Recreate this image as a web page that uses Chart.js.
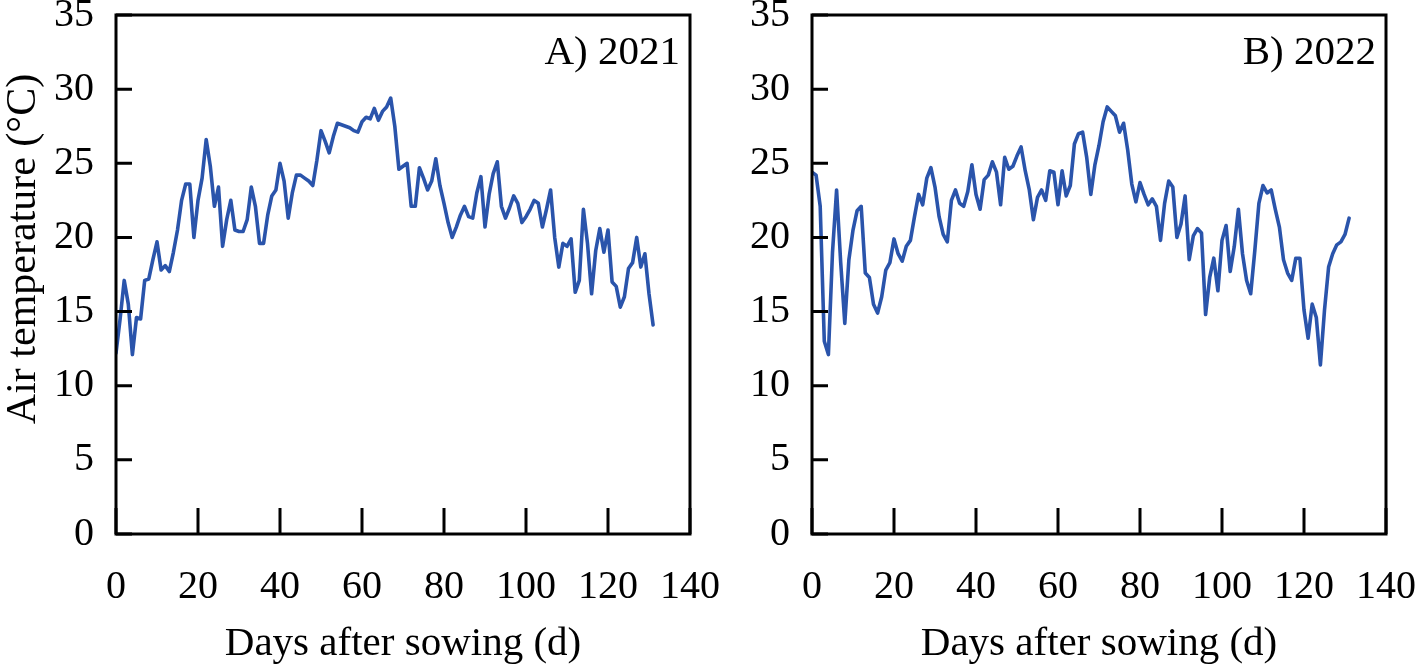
<!DOCTYPE html>
<html lang="en">
<head>
  <meta charset="UTF-8">
  <title>Air temperature</title>
  <script src="https://cdn.jsdelivr.net/npm/chart.js"></script>
  <style>
    body { margin: 0; background: #fff; }
    #wrap { position: relative; width: 1417px; height: 669px; background: #fff; }
    canvas { position: absolute; top: 0; left: 0; }
  </style>
</head>
<body>
  <div id="wrap">
    <canvas id="c1" width="1417" height="669"></canvas>
    <canvas id="c2" width="1417" height="669"></canvas>
  </div>

  <script>
    // daily mean air temperature (days 0..131)
    const temp2021 = [
      12.2, 14.5, 17.1, 15.5, 12.1, 14.6, 14.5, 17.1, 17.2, 18.5,
      19.7, 17.8, 18.1, 17.7, 19.0, 20.5, 22.5, 23.6, 23.6, 20.0,
      22.5, 24.0, 26.6, 24.8, 22.1, 23.4, 19.4, 21.2, 22.5, 20.5,
      20.4, 20.4, 21.2, 23.4, 22.1, 19.6, 19.6, 21.5, 22.8, 23.2,
      25.0, 23.8, 21.3, 23.0, 24.2, 24.2, 24.0, 23.8, 23.5, 25.2,
      27.2, 26.5, 25.7, 26.8, 27.7, 27.6, 27.5, 27.4, 27.2, 27.1,
      27.8, 28.1, 28.0, 28.7, 27.9, 28.5, 28.8, 29.4, 27.5, 24.6,
      24.8, 25.0, 22.1, 22.1, 24.7, 24.0, 23.2, 23.8, 25.3, 23.5,
      22.3, 21.0, 20.0, 20.7, 21.5, 22.1, 21.4, 21.3, 23.0, 24.1,
      20.7, 22.9, 24.3, 25.1, 22.1, 21.3, 22.0, 22.8, 22.3, 21.0,
      21.4, 21.9, 22.5, 22.3, 20.7, 21.9, 23.2, 20.0, 18.0, 19.6,
      19.4, 19.9, 16.3, 17.1, 21.9, 19.6, 16.2, 19.1, 20.6, 19.0,
      20.5, 17.0, 16.7, 15.3, 16.0, 17.9, 18.3, 20.0, 18.0, 18.9,
      16.2, 14.1
    ];
    const temp2022 = [
      24.4, 24.2, 22.1, 13.0, 12.1, 19.0, 23.2, 18.3, 14.2, 18.5,
      20.5, 21.8, 22.1, 17.6, 17.3, 15.5, 14.9, 16.0, 17.8, 18.3,
      19.9, 18.9, 18.4, 19.4, 19.8, 21.4, 22.9, 22.2, 24.0, 24.7,
      23.4, 21.4, 20.2, 19.7, 22.5, 23.2, 22.3, 22.1, 23.1, 24.9,
      22.9, 21.9, 23.9, 24.2, 25.1, 24.4, 22.2, 25.4, 24.6, 24.8,
      25.5, 26.1, 24.5, 23.2, 21.2, 22.7, 23.2, 22.5, 24.5, 24.4,
      22.2, 24.5, 22.8, 23.5, 26.3, 27.0, 27.1, 25.4, 22.9, 24.9,
      26.2, 27.8, 28.8, 28.5, 28.2, 27.1, 27.7, 25.9, 23.6, 22.4,
      23.7, 22.9, 22.2, 22.6, 22.1, 19.8, 22.3, 23.8, 23.4, 20.0,
      20.9, 22.8, 18.5, 20.1, 20.6, 20.3, 14.8, 17.3, 18.6, 16.4,
      19.8, 20.8, 17.7, 19.4, 21.9, 18.9, 17.1, 16.2, 19.1, 22.3,
      23.5, 23.0, 23.2, 21.9, 20.7, 18.5, 17.6, 17.1, 18.6, 18.6,
      15.1, 13.2, 15.5, 14.6, 11.4, 15.1, 18.0, 18.9, 19.5, 19.7,
      20.2, 21.3
    ];
    const days = temp2021.map((_, i) => i);
    const xTicks = [0, 20, 40, 60, 80, 100, 120, 140];
    const yTicks = [0, 5, 10, 15, 20, 25, 30, 35];

    const FONT = "'Liberation Serif', 'Times New Roman', serif";
    const lineColor = '#2a54ab';

    // box around the plot, inward tick marks, panel label, y title
    const frame = {
      id: 'frame',
      afterDraw(chart, args, opts) {
        const { ctx, chartArea: a, scales } = chart;
        ctx.save();
        ctx.strokeStyle = '#000';
        ctx.lineWidth = 3;
        ctx.strokeRect(a.left, a.top, a.right - a.left, a.bottom - a.top);
        ctx.beginPath();
        yTicks.forEach(v => {
          const y = scales.y.getPixelForValue(v);
          ctx.moveTo(a.left, y);
          ctx.lineTo(a.left + 16, y);
        });
        xTicks.forEach(v => {
          const x = scales.x.getPixelForValue(v);
          ctx.moveTo(x, a.bottom);
          ctx.lineTo(x, a.bottom - 26);
        });
        ctx.stroke();
        ctx.fillStyle = '#000';
        ctx.font = '41px ' + FONT;
        ctx.textAlign = 'right';
        ctx.textBaseline = 'alphabetic';
        ctx.fillText(opts.label, a.right - 10, a.top + 49);
        if (opts.yTitle) {
          ctx.translate(24, 249);
          ctx.rotate(-Math.PI / 2);
          ctx.textAlign = 'center';
          ctx.textBaseline = 'middle';
          ctx.font = '42px ' + FONT;
          ctx.fillText(opts.yTitle, 0, 0);
        }
        ctx.restore();
      }
    };

    function makeChart(id, values, label, pad, yWidth, yTitle) {
      return new Chart(document.getElementById(id), {
        type: 'line',
        data: {
          datasets: [{
            data: values.map((t, i) => ({ x: days[i], y: t })),
            borderColor: lineColor,
            borderWidth: 3.6,
            borderJoinStyle: 'round',
            borderCapStyle: 'round',
            pointRadius: 0,
            tension: 0,
            fill: false
          }]
        },
        options: {
          responsive: false,
          animation: false,
          devicePixelRatio: 1,
          layout: { padding: { top: 15, right: pad.right, left: pad.left, bottom: 0 } },
          plugins: {
            legend: { display: false },
            tooltip: { enabled: false },
            frame: { label: label, yTitle: yTitle }
          },
          scales: {
            x: {
              type: 'linear',
              min: 0, max: 140,
              afterBuildTicks: s => { s.ticks = xTicks.map(v => ({ value: v })); },
              afterFit: s => { s.height = 135; s.paddingLeft = 0; s.paddingRight = 0; },
              grid: { display: false },
              border: { display: false },
              ticks: { color: '#000', font: { family: FONT, size: 40 }, padding: 21, maxRotation: 0 },
              title: {
                display: true,
                text: 'Days after sowing (d)',
                color: '#000',
                font: { family: FONT, size: 41 },
                padding: { top: 14, bottom: 0 }
              }
            },
            y: {
              min: 0, max: 35,
              afterBuildTicks: s => { s.ticks = yTicks.map(v => ({ value: v })); },
              afterFit: s => { s.width = yWidth; s.paddingTop = 0; s.paddingBottom = 0; },
              grid: { display: false },
              border: { display: false },
              ticks: { color: '#000', font: { family: FONT, size: 40 }, padding: 14 }
            }
          }
        },
        plugins: [frame]
      });
    }

    makeChart('c1', temp2021, 'A) 2021', { left: 0, right: 1417 - 690 }, 116, 'Air temperature (°C)');
    makeChart('c2', temp2022, 'B) 2022', { left: 708, right: 1417 - 1386 }, 104, null);
  </script>
</body>
</html>
